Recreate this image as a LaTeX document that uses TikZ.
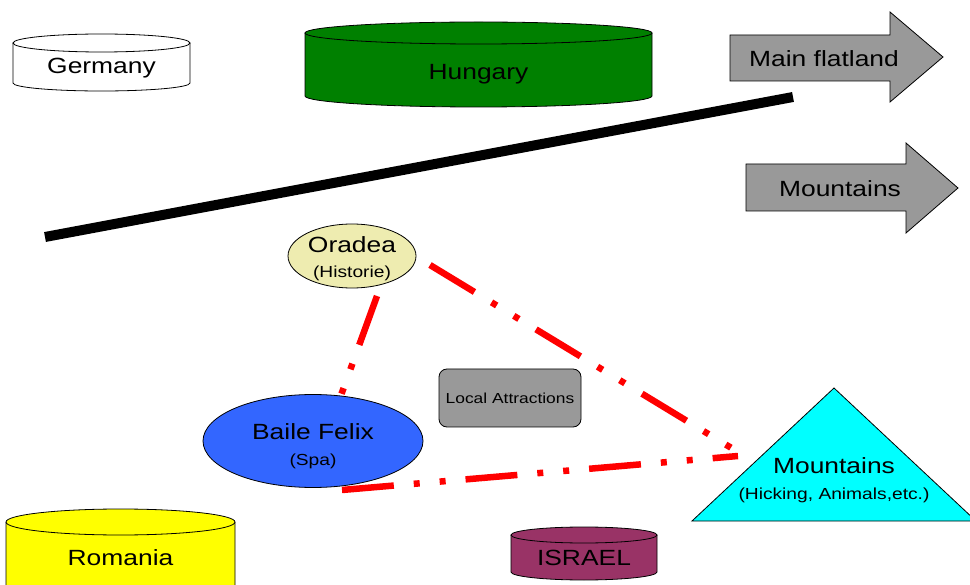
\documentclass[tikz,border=0pt]{standalone}
\usepackage{fontspec}
\setmainfont[FakeStretch=1.2]{Liberation Sans}
\usetikzlibrary{shapes.geometric}

\definecolor{hungarygreen}{RGB}{0,128,0}
\definecolor{romaniayellow}{RGB}{255,255,0}
\definecolor{israelpurple}{RGB}{153,51,102}
\definecolor{oradeafill}{RGB}{238,236,176}
\definecolor{spablue}{RGB}{51,102,255}
\definecolor{boxgray}{RGB}{153,153,153}
\definecolor{linkred}{RGB}{255,0,0}
\definecolor{peakcyan}{RGB}{0,255,255}

\newcommand\bigtxt{\fontsize{22}{26}\selectfont}
\newcommand\smalltxt{\fontsize{16}{19}\selectfont}
\newcommand\tinytxt{\fontsize{14.5}{17}\selectfont}

% drum: x-left, x-right, y-top, top radius, y-bottom, bottom radius, fill
\newcommand\drumshape[7]{%
  \pgfmathsetmacro\drumrx{(#2-#1)/2}%
  \fill[#7] (#1,#3) -- (#1,#5)
    arc[start angle=180,end angle=360,x radius=\drumrx pt,y radius=#6pt]
    -- (#2,#3) -- cycle;
  \draw[outline] (#1,#3) -- (#1,#5)
    arc[start angle=180,end angle=360,x radius=\drumrx pt,y radius=#6pt]
    -- (#2,#3);
  \filldraw[fill=#7,outline] ({#1+\drumrx},#3)
    ellipse[x radius=\drumrx pt,y radius=#4pt];
}

\begin{document}
\begin{tikzpicture}[x=1pt,y=-1pt,
  outline/.style={draw=black,line width=0.8pt},
  caption/.style={inner sep=0pt,align=center,font=\bigtxt},
  redlink/.style={draw=linkred,line width=6.5pt,
    dash pattern=on 52pt off 20pt on 6pt off 20pt on 6pt off 20pt},
]
\useasboundingbox (0,0) rectangle (970,585);
\fill[white] (0,0) rectangle (970,585);

% country drums
\drumshape{13}{190}{43}{9}{83}{8}{white}
\node[caption] (germany) at (101.5,68) {Germany};

\drumshape{305}{652}{33}{11}{96}{11}{hungarygreen}
\node[caption] (hungary) at (478.5,74) {Hungary};

\drumshape{6}{235}{522}{13}{600}{13}{romaniayellow}
\node[caption] (romania) at (120.5,558) {Romania};

\drumshape{511}{657}{535}{8}{572}{8}{israelpurple}
\node[caption] (israel) at (584,558) {ISRAEL};

% block arrows
\filldraw[fill=boxgray,outline] (730,35) -- (890,35) -- (890,12) -- (943,57)
  -- (890,102) -- (890,81) -- (730,81) -- cycle;
\node[caption] (flat) at (824,59) {Main flatland};

\filldraw[fill=boxgray,outline] (746,164) -- (906,164) -- (906,143) -- (958,188)
  -- (906,233) -- (906,211) -- (746,211) -- cycle;
\node[caption] (mtarrow) at (840,189) {Mountains};

% divider bar
\coordinate (barL) at (45,237);
\coordinate (barR) at (793,97);
\draw[line width=10pt] (barL) -- (barR);

% red links (drawn first so the shapes sit on top)
\coordinate (o1) at (377,296);
\coordinate (b1) at (340,398);
\coordinate (o2) at (430,265);
\coordinate (m1) at (738,452);
\coordinate (b2) at (342,490);
\coordinate (m2) at (738,456);
\draw[redlink] (o1) -- (b1);
\draw[redlink] (o2) -- (m1);
\draw[redlink] (b2) -- (m2);

% places
\node[ellipse,outline,fill=oradeafill,minimum width=128pt,minimum height=64pt,
  inner sep=0pt] (oradea) at (352,256) {};
\node[caption] (oradeatext) at ([yshift=-3pt]oradea.center)
  {Oradea\\[-1pt]\smalltxt (Historie)};

\node[ellipse,outline,fill=spablue,minimum width=220pt,minimum height=93pt,
  inner sep=0pt] (felix) at (313,441) {};
\node[caption] (felixtext) at ([yshift=-5pt]felix.center)
  {Baile Felix\\\smalltxt (Spa)};

\node[draw=black,line width=0.8pt,fill=boxgray,rounded corners=8pt,
  minimum width=142pt,minimum height=58pt,inner sep=0pt,font=\tinytxt]
  (local) at (510,398) {Local Attractions};

% mountain triangle
\filldraw[fill=peakcyan,outline] (834,388) -- (976,521) -- (692,521) -- cycle;
\node[caption] (mountains) at (834,480)
  {Mountains\\\smalltxt (Hicking, Animals,etc.)};
\end{tikzpicture}
\end{document}
